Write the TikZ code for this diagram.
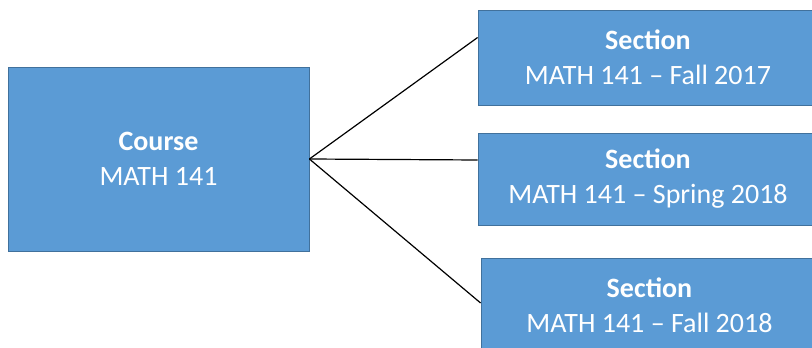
\documentclass[tikz,border=0pt]{standalone}
\usepackage{fontspec}
\setmainfont{Carlito}
\usepackage{tikz}
\usetikzlibrary{positioning}
\usepackage{xcolor}
\definecolor{boxblue}{HTML}{5B9BD5}
\definecolor{boxedge}{HTML}{41719C}

\begin{document}
\begin{tikzpicture}[x=1pt, y=1pt,
    box/.style={draw=boxedge, fill=boxblue, text=white, align=center, inner sep=0pt,
        line width=0.8pt, font=\fontsize{28}{35}\selectfont}]
    \useasboundingbox (0,0) rectangle (812,348);

    % 课程
    \node[box, minimum width=301pt, minimum height=184pt] (course) at (158.5,189)
        {\textbf{Course}\\MATH 141};

    % 各个班
    \node[box, minimum width=340pt, minimum height=95pt] (sec1) at (648,290.5)
        {\textbf{Section}\\MATH 141 -- Fall 2017};
    \node[box, minimum width=340pt, minimum height=92pt] (sec2) at (648,169)
        {\textbf{Section}\\MATH 141 -- Spring 2018};
    \node[box, minimum width=337pt, minimum height=95pt] (sec3) at (649.5,42.5)
        {\textbf{Section}\\MATH 141 -- Fall 2018};

    % 连线
    \draw[line width=1.2pt] (course.east) -- ([yshift=20pt]sec1.west);
    \draw[line width=1.2pt] (course.east) -- ([yshift=19pt]sec2.west);
    \draw[line width=1.2pt] (course.east) -- ([yshift=2.5pt]sec3.west);
\end{tikzpicture}
\end{document}
